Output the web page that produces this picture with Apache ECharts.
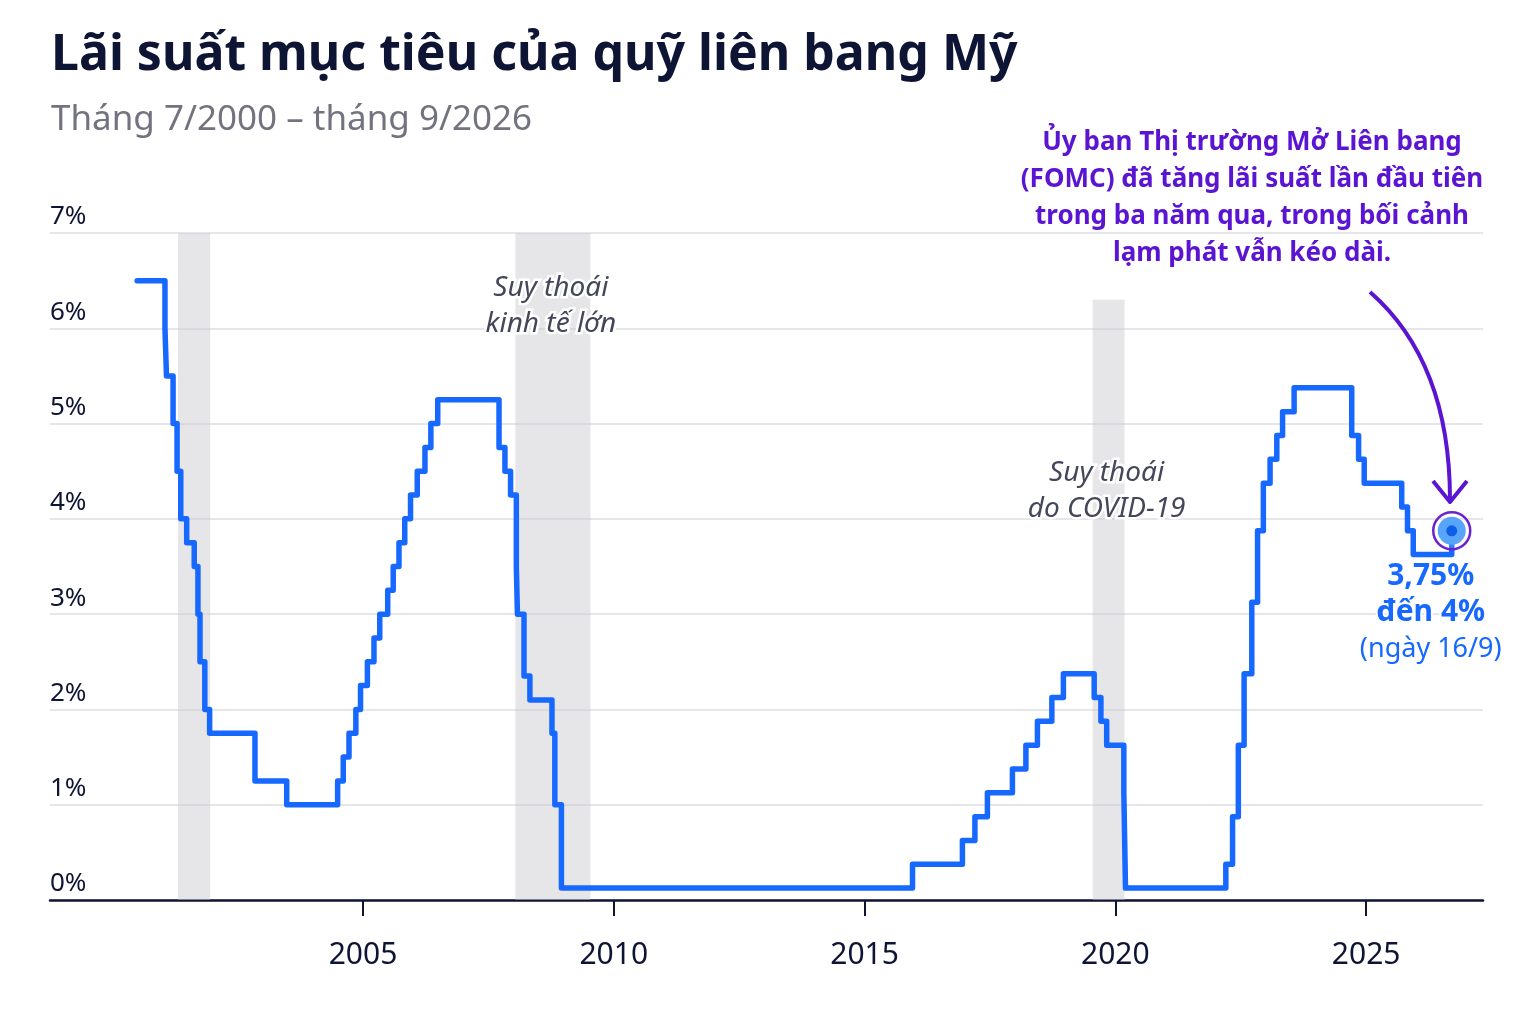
<!DOCTYPE html>
<html>
<head>
<meta charset="utf-8">
<script src="https://cdn.jsdelivr.net/npm/echarts@6/dist/echarts.min.js"></script>
<style>
  html, body { margin: 0; padding: 0; background: #fff; }
  #chart { width: 1524px; height: 1032px; }
</style>
</head>
<body>
<div id="chart"></div>
<script>
// Fed funds target (midpoint of range after 2008), change dates
const rateDates = [
  '2000-07-01', '2001-01-20', '2001-01-31', '2001-03-20', '2001-04-18', '2001-05-15',
  '2001-06-27', '2001-08-21', '2001-09-17', '2001-10-02', '2001-11-06', '2001-12-11',
  '2002-11-06', '2003-06-25', '2004-06-30', '2004-08-10', '2004-09-21', '2004-11-10',
  '2004-12-14', '2005-02-02', '2005-03-22', '2005-05-03', '2005-06-30', '2005-08-09',
  '2005-09-20', '2005-11-01', '2005-12-13', '2006-01-31', '2006-03-28', '2006-05-10',
  '2006-06-29', '2007-09-18', '2007-10-31', '2007-12-11', '2008-01-22', '2008-01-30',
  '2008-03-18', '2008-04-30', '2008-10-08', '2008-10-29', '2008-12-16', '2015-12-16',
  '2016-12-14', '2017-03-15', '2017-06-14', '2017-12-13', '2018-03-21', '2018-06-13',
  '2018-09-26', '2018-12-19', '2019-07-31', '2019-09-18', '2019-10-30', '2020-03-03',
  '2020-03-15', '2022-03-16', '2022-05-04', '2022-06-15', '2022-07-27', '2022-09-21',
  '2022-11-02', '2022-12-14', '2023-02-01', '2023-03-22', '2023-05-03', '2023-07-26',
  '2024-09-18', '2024-11-07', '2024-12-18', '2025-09-17', '2025-10-29', '2025-12-10',
  '2026-09-16'
];
const rateValues = [
  6.5, 6.0, 5.5, 5.0, 4.5, 4.0,
  3.75, 3.5, 3.0, 2.5, 2.0, 1.75,
  1.25, 1.0, 1.25, 1.5, 1.75, 2.0,
  2.25, 2.5, 2.75, 3.0, 3.25, 3.5,
  3.75, 4.0, 4.25, 4.5, 4.75, 5.0,
  5.25, 4.75, 4.5, 4.25, 3.5, 3.0,
  2.35, 2.1, 1.75, 1.0, 0.125, 0.375,
  0.625, 0.875, 1.125, 1.375, 1.625, 1.875,
  2.125, 2.375, 2.125, 1.875, 1.625, 1.125,
  0.125, 0.375, 0.875, 1.625, 2.375, 3.125,
  3.875, 4.375, 4.625, 4.875, 5.125, 5.375,
  4.875, 4.625, 4.375, 4.125, 3.875, 3.625,
  3.875
];

// recessions: start, end, top of shading (%), label
const recessionStart = ['2001-04-25', '2008-01-15', '2019-07-20'];
const recessionEnd = ['2001-12-15', '2009-07-15', '2020-03-08'];
const recessionTop = [7, 7, 6.3];
const recessionLabels = ['', 'Suy thoái\nkinh tế lớn', 'Suy thoái\ndo COVID-19'];

const yearTicks = [2005, 2010, 2015, 2020, 2025];
const percentTicks = [0, 1, 2, 3, 4, 5, 6, 7];

function toYear(s) {
  const d = new Date(s + 'T00:00:00Z');
  const y = d.getUTCFullYear();
  const start = Date.UTC(y, 0, 1);
  const end = Date.UTC(y + 1, 0, 1);
  return y + (d.getTime() - start) / (end - start);
}

const rateData = rateDates.map((d, i) => [toYear(d), rateValues[i]]);
const lastPoint = rateData[rateData.length - 1];

const labelOffsets = [0, 32, 150];
const recessionAreas = recessionStart.map((s, i) => [
  {
    xAxis: toYear(s), yAxis: 0,
    name: recessionLabels[i],
    label: { offset: [-2, labelOffsets[i]] }
  },
  { xAxis: toYear(recessionEnd[i]), yAxis: recessionTop[i] }
]);

const navy = '#0e1433';
const blue = '#1668ff';
const purple = '#5a14d2';
const font = '"Noto Sans", "Open Sans", sans-serif';

const chart = echarts.init(document.getElementById('chart'));
chart.setOption({
  animation: false,
  backgroundColor: '#fff',
  textStyle: { fontFamily: font },
  title: {
    text: 'Lãi suất mục tiêu của quỹ liên bang Mỹ',
    subtext: 'Tháng 7/2000 – tháng 9/2026',
    left: 46,
    top: 26,
    itemGap: 22,
    textStyle: { fontFamily: font, fontSize: 50, fontWeight: 'bold', color: navy },
    subtextStyle: { fontFamily: font, fontSize: 35, color: '#73737f' }
  },
  grid: { left: 50, right: 41, top: 233, bottom: 132, containLabel: false },
  xAxis: {
    type: 'value',
    min: 1998.76,
    max: 2027.33,
    splitLine: { show: false },
    axisLine: { show: true, lineStyle: { color: navy, width: 2.5 } },
    axisTick: {
      show: true, customValues: yearTicks, length: 16,
      lineStyle: { color: navy, width: 2 }
    },
    axisLabel: {
      customValues: yearTicks, fontSize: 30, color: navy, margin: 40,
      fontFamily: font, formatter: v => String(v)
    }
  },
  yAxis: {
    type: 'value',
    min: 0,
    max: 7,
    interval: 1,
    axisLine: { show: false },
    axisTick: { show: false },
    splitLine: { show: true, lineStyle: { color: '#dcdce3', width: 1.5 } },
    axisLabel: {
      inside: true, margin: 0, align: 'left', verticalAlign: 'bottom',
      padding: [0, 0, 3, 0], fontSize: 26, color: navy, fontFamily: font,
      formatter: v => percentTicks.includes(v) ? v + '%' : ''
    }
  },
  series: [
    {
      type: 'line',
      name: 'shading',
      data: [],
      silent: true,
      markArea: {
        silent: true,
        itemStyle: { color: 'rgba(200,200,206,0.45)' },
        label: {
          show: true, position: 'insideTop', fontFamily: font, fontStyle: 'italic',
          fontSize: 28, lineHeight: 36, color: '#44475a',
          textBorderColor: '#fff', textBorderWidth: 5
        },
        data: recessionAreas
      }
    },
    {
      type: 'line',
      name: 'rate',
      step: 'end',
      data: rateData,
      showSymbol: false,
      symbol: 'none',
      lineStyle: { color: blue, width: 5.5, cap: 'round', join: 'round' },
      z: 5
    },
    {
      type: 'scatter',
      data: [lastPoint],
      symbolSize: 37,
      itemStyle: { color: 'rgba(255,255,255,0.15)', borderColor: '#6d22d0', borderWidth: 2.5, opacity: 1 },
      z: 6
    },
    {
      type: 'scatter',
      data: [lastPoint],
      symbolSize: 28,
      itemStyle: { color: '#58a4f8', opacity: 1 },
      z: 7
    },
    {
      type: 'scatter',
      data: [lastPoint],
      symbolSize: 11,
      itemStyle: { color: '#0f5fe6', opacity: 1 },
      z: 8,
      label: {
        show: true, position: 'bottom', distance: 22, offset: [-21, 0],
        fontFamily: font, align: 'center', opacity: 1,
        formatter: '{a|3,75%}\n{a|đến 4%}\n{b|(ngày 16/9)}',
        textBorderColor: '#fff', textBorderWidth: 4,
        rich: {
          a: { fontSize: 30, fontWeight: 'bold', color: blue, lineHeight: 36, fontFamily: font },
          b: { fontSize: 27, color: blue, lineHeight: 38, fontFamily: font }
        }
      }
    }
  ],
  graphic: [
    {
      type: 'text',
      x: 1252,
      y: 124,
      style: {
        text: 'Ủy ban Thị trường Mở Liên bang\n(FOMC) đã tăng lãi suất lần đầu tiên\ntrong ba năm qua, trong bối cảnh\nlạm phát vẫn kéo dài.',
        align: 'center',
        verticalAlign: 'top',
        fontFamily: font, fontSize: 26, fontWeight: 'bold', lineHeight: 37,
        fill: purple
      }
    },
    {
      type: 'bezierCurve',
      shape: { x1: 1370, y1: 292, cpx1: 1450, cpy1: 362, x2: 1450, y2: 500 },
      style: { stroke: purple, lineWidth: 4, fill: 'none' },
      z: 10
    },
    {
      type: 'polyline',
      shape: { points: [[1433, 481], [1450, 502], [1467, 481]] },
      style: { stroke: purple, lineWidth: 4, fill: 'none', lineJoin: 'round' },
      z: 10
    }
  ]
});
</script>
</body>
</html>
